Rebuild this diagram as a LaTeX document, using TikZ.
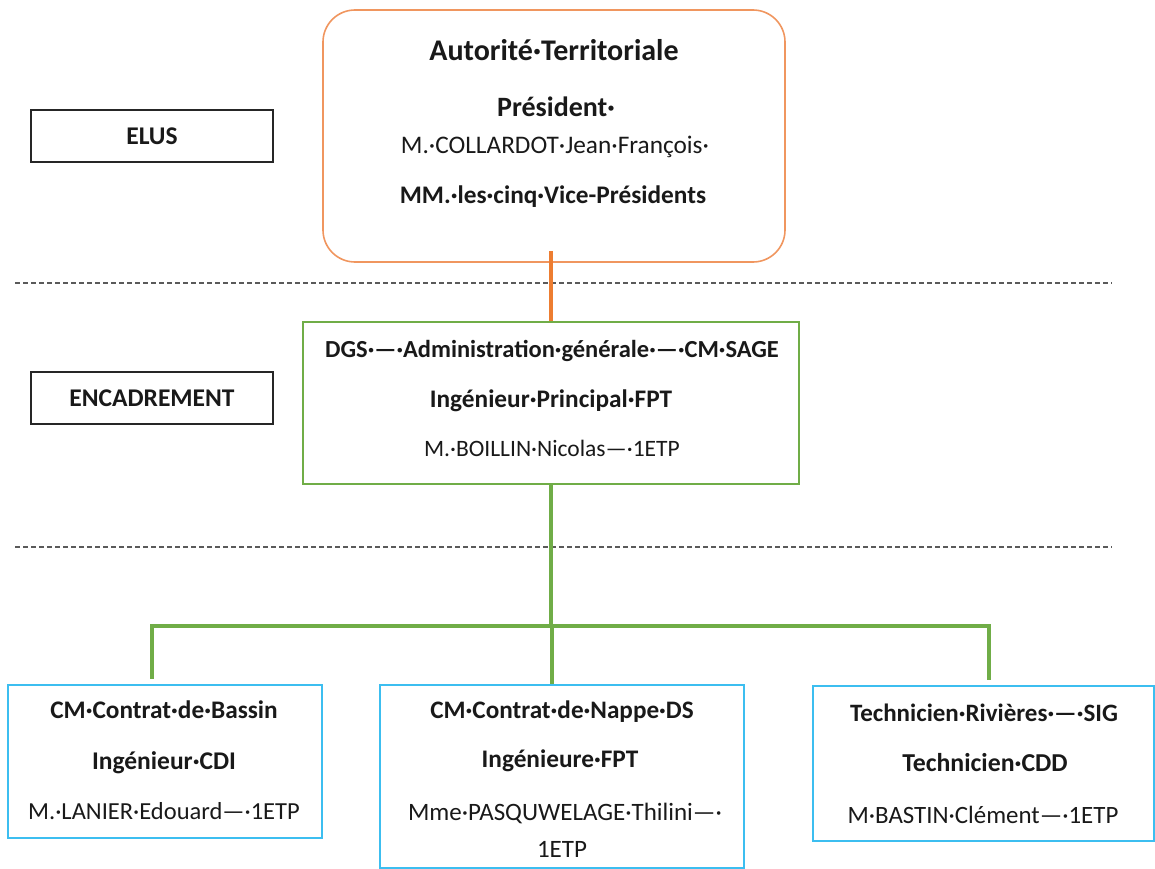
\documentclass[tikz,border=0pt]{standalone}
\usepackage{fontspec}
\setmainfont{Carlito}
\definecolor{orangeB}{RGB}{240,150,95}
\definecolor{orangeL}{RGB}{237,125,49}
\definecolor{greenA}{RGB}{112,173,71}
\definecolor{blueA}{RGB}{60,190,240}
\definecolor{txtc}{RGB}{25,25,25}
\definecolor{dashc}{RGB}{90,90,90}
\newcommand{\fs}[1]{\fontsize{#1bp}{#1bp}\selectfont}
\tikzset{
  lab/.style={draw=black!85, line width=1.3bp, minimum width=242bp, minimum height=52bp, inner sep=0pt, text=txtc, font=\fs{25.5}\bfseries},
  topbox/.style={draw=orangeB, line width=1.6bp, rounded corners=32bp, minimum width=462bp, minimum height=252bp, inner sep=0pt},
  greenbox/.style={draw=greenA, line width=1.5bp, minimum width=496bp, minimum height=162bp, inner sep=0pt},
  bluebox/.style={draw=blueA, line width=2bp, inner sep=0pt},
  tl/.style={anchor=base, inner sep=0pt, text=txtc},
  sepline/.style={draw=dashc, line width=1.4bp, dash pattern=on 5bp off 3bp},
  olink/.style={draw=orangeL, line width=3.5bp},
  glink/.style={draw=greenA, line width=4bp},
}
\begin{document}
\begin{tikzpicture}[x=1bp,y=-1bp]
\useasboundingbox (0,0) rectangle (1155,869);
% level labels
\node[lab] (elus) at (152,136) {ELUS};
\node[lab] (enc) at (152,398) {ENCADREMENT};
% separators
\coordinate (s1a) at (15,283); \coordinate (s1b) at (1112,283);
\coordinate (s2a) at (15,547); \coordinate (s2b) at (1112,547);
\draw[sepline] (s1a) -- (s1b);
\draw[sepline] (s2a) -- (s2b);
% top box
\node[topbox] (top) at (554,136) {};
\node[tl, font=\fs{30}\bfseries] (t1) at (554,60) {Autorité·Territoriale};
\node[tl, font=\fs{28}\bfseries] (t2) at (556,116) {Président·};
\node[tl, font=\fs{25.3}] (t3) at (555,153) {M.·COLLARDOT·Jean·François·};
\node[tl, font=\fs{25.3}\bfseries] (t4) at (553,203) {MM.·les·cinq·Vice-Présidents};
% green box
\node[greenbox] (dgs) at (551,403) {};
\node[tl, font=\fs{24.5}\bfseries] (g1) at (552,357) {DGS·—·Administration·générale·—·CM·SAGE};
\node[tl, font=\fs{25.3}\bfseries] (g2) at (551,407) {Ingénieur·Principal·FPT};
\node[tl, font=\fs{23.5}] (g3) at (552,456) {M.·BOILLIN·Nicolas—·1ETP};
% bottom boxes
\node[bluebox, minimum width=314bp, minimum height=153bp] (lb) at (165,761.5) {};
\node[tl, font=\fs{25.3}\bfseries] (l1) at (164,718) {CM·Contrat·de·Bassin};
\node[tl, font=\fs{25.5}\bfseries] (l2) at (164,769) {Ingénieur·CDI};
\node[tl, font=\fs{24.5}] (l3) at (164,819) {M.·LANIER·Edouard—·1ETP};
\node[bluebox, minimum width=364bp, minimum height=183bp] (mb) at (562,776.5) {};
\node[tl, font=\fs{25.2}\bfseries] (m1) at (562,718) {CM·Contrat·de·Nappe·DS};
\node[tl, font=\fs{25.3}\bfseries] (m2) at (560,767) {Ingénieure·FPT};
\node[tl, font=\fs{25}] (m3) at (565,820) {Mme·PASQUWELAGE·Thilini—·};
\node[tl, font=\fs{25}] (m4) at (562,857) {1ETP};
\node[bluebox, minimum width=341bp, minimum height=155bp] (rb) at (983,763.5) {};
\node[tl, font=\fs{25}\bfseries] (r1) at (984,721) {Technicien·Rivières·—·SIG};
\node[tl, font=\fs{25.8}\bfseries] (r2) at (985,771) {Technicien·CDD};
\node[tl, font=\fs{24.9}] (r3) at (983,823) {M·BASTIN·Clément—·1ETP};
% connectors
\draw[olink] ([yshift=12bp]top.south -| dgs.north) -- (dgs.north);
\coordinate (jm) at (552,626);
\coordinate (jl) at (152,626);
\coordinate (jr) at (989,626);
\draw[glink] (dgs.south) -- (dgs.south |- jm);
\draw[glink, line cap=rect] (jl) -- (jr);
\draw[glink] (jl) -- ([yshift=5bp]jl |- lb.north);
\draw[glink] (jm) -- (jm |- mb.north);
\draw[glink] (jr) -- ([yshift=5bp]jr |- rb.north);
\end{tikzpicture}
\end{document}
